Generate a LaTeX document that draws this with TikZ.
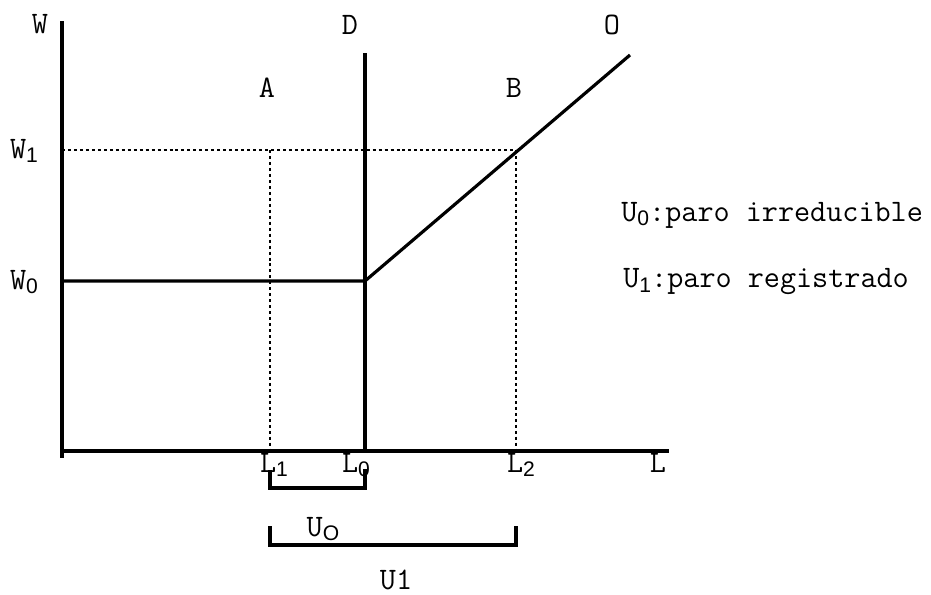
\documentclass[tikz,border=0pt]{standalone}
\usepackage{fontspec}
\newfontfamily\subfont{Liberation Sans}
\usetikzlibrary{positioning}
% small sans subscript, as in the figure
\newcommand{\low}[1]{\raisebox{-0.35ex}{\subfont\fontsize{12}{12}\selectfont #1}}

\begin{document}
\begin{tikzpicture}[x=0.02cm, y=-0.02cm, font=\ttfamily\fontsize{17.8}{19}\selectfont,
    axis/.style={line width=1.8pt},
    guide/.style={line width=1.1pt, dash pattern=on 1.7pt off 1.7pt},
    lab/.style={inner sep=0pt, anchor=center}]

    \useasboundingbox (0,0) rectangle (931,595);

    % Points of the diagram
    \coordinate (ytop) at (62,21);
    \coordinate (ybot) at (62,458);
    \coordinate (orig) at (62,451);
    \coordinate (xend) at (669,451);
    \coordinate (dtop) at (365,53);
    \coordinate (dbot) at (365,451);
    \coordinate (kink) at (365,281);
    \coordinate (wzero) at (62,281);
    \coordinate (otop) at (630,55);
    \coordinate (wone) at (62,150);
    \coordinate (ptone) at (270,150);
    \coordinate (pttwo) at (516,150);
    \coordinate (ftone) at (270,451);
    \coordinate (fttwo) at (516,451);

    % Axes
    \draw[axis] (ytop) -- (ybot);
    \draw[axis] (orig) -- (xend);

    % Demand D and supply O
    \draw[axis] (dtop) -- (dbot);
    \draw[axis] (wzero) -- (kink) -- (otop);

    % Dotted guides for W1
    \draw[guide] (wone) -- (pttwo);
    \draw[guide] (ptone) -- (ftone);
    \draw[guide] (pttwo) -- (fttwo);

    % Brackets for U0 and U1
    \draw[axis] (270,470) -- (270,488) -- (365,488) -- (365,469);
    \draw[axis] (270,526) -- (270,545) -- (516,545) -- (516,526);

    % Axis and curve labels
    \node[lab] (labw) at (40,24) {W};
    \node[lab] (labd) at (350,25) {D};
    \node[lab] (labo) at (612,25) {O};
    \node[lab] (laba) at (267,88) {A};
    \node[lab] (labb) at (514,88) {B};
    \node[lab] (labwone) at (24,151) {W\low{1}};
    \node[lab] (labwzero) at (24,282) {W\low{0}};
    \node[lab] (labl) at (658,463) {L};
    \node[lab] (lablone) at (274,465) {L\low{1}};
    \node[lab] (lablzero) at (356,465) {L\low{0}};
    \node[lab] (labltwo) at (521,465) {L\low{2}};

    % Unemployment labels
    \node[lab] (labuo) at (323,529) {U\low{O}};
    \node[lab] (labuone) at (396,580) {U1};
    \node[lab, anchor=west] (keyzero) at (621,215) {U\low{0}:paro irreducible};
    \node[lab, anchor=west] (keyone) at (623,282) {U\low{1}:paro registrado};

\end{tikzpicture}
\end{document}
